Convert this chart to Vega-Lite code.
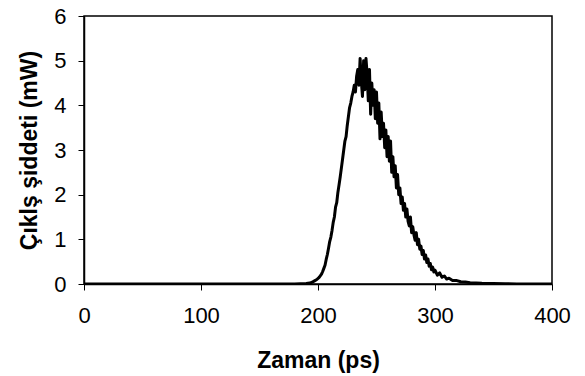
{
  "$schema": "https://vega.github.io/schema/vega-lite/v6.json",
  "width": 468,
  "height": 268,
  "autosize": "none",
  "padding": {"left": 84, "top": 16, "right": 33, "bottom": 92},
  "background": "white",
  "config": {
    "view": {"stroke": "black", "strokeWidth": 1.5},
    "font": "Liberation Sans"
  },
  "data": {
    "values": [
      {"t": 0, "p": 0}, {"t": 180, "p": 0}, {"t": 185, "p": 0.005}, {"t": 190, "p": 0.01},
      {"t": 193, "p": 0.02}, {"t": 195, "p": 0.04}, {"t": 197, "p": 0.07}, {"t": 199, "p": 0.1},
      {"t": 201, "p": 0.15}, {"t": 203, "p": 0.22}, {"t": 204, "p": 0.28}, {"t": 205, "p": 0.35},
      {"t": 206, "p": 0.42}, {"t": 207, "p": 0.55}, {"t": 208, "p": 0.66}, {"t": 209, "p": 0.8},
      {"t": 210, "p": 0.95}, {"t": 211, "p": 1.05}, {"t": 212, "p": 1.2}, {"t": 213, "p": 1.38},
      {"t": 214, "p": 1.5}, {"t": 215, "p": 1.72}, {"t": 216, "p": 1.82}, {"t": 217, "p": 2.05},
      {"t": 218, "p": 2.22}, {"t": 219, "p": 2.4}, {"t": 220, "p": 2.6}, {"t": 221, "p": 2.8},
      {"t": 222, "p": 3.0}, {"t": 223, "p": 3.2}, {"t": 224, "p": 3.3}, {"t": 225, "p": 3.55},
      {"t": 226, "p": 3.75}, {"t": 227, "p": 3.95}, {"t": 228, "p": 4.05}, {"t": 229, "p": 4.2},
      {"t": 230, "p": 4.3}, {"t": 231, "p": 4.45}, {"t": 232, "p": 4.3}, {"t": 233, "p": 4.65},
      {"t": 234, "p": 4.8}, {"t": 235, "p": 4.45}, {"t": 236, "p": 5.05}, {"t": 237, "p": 4.55},
      {"t": 238, "p": 4.2}, {"t": 239, "p": 5.0}, {"t": 240, "p": 4.35}, {"t": 241, "p": 5.05},
      {"t": 242, "p": 4.7}, {"t": 243, "p": 4.1}, {"t": 244, "p": 4.8}, {"t": 245, "p": 3.8},
      {"t": 246, "p": 4.5}, {"t": 247, "p": 4.0}, {"t": 248, "p": 4.35}, {"t": 249, "p": 3.7},
      {"t": 250, "p": 4.3}, {"t": 251, "p": 3.6}, {"t": 252, "p": 4.05}, {"t": 253, "p": 3.25},
      {"t": 254, "p": 3.85}, {"t": 255, "p": 3.3}, {"t": 256, "p": 3.6}, {"t": 257, "p": 3.05},
      {"t": 258, "p": 3.45}, {"t": 259, "p": 2.85}, {"t": 260, "p": 3.3}, {"t": 261, "p": 2.75},
      {"t": 262, "p": 3.2}, {"t": 263, "p": 2.5}, {"t": 264, "p": 2.85}, {"t": 265, "p": 2.4},
      {"t": 266, "p": 2.65}, {"t": 267, "p": 2.15}, {"t": 268, "p": 2.45}, {"t": 269, "p": 2.0},
      {"t": 270, "p": 2.15}, {"t": 271, "p": 1.8}, {"t": 272, "p": 1.95}, {"t": 273, "p": 1.65},
      {"t": 274, "p": 1.8}, {"t": 275, "p": 1.5}, {"t": 276, "p": 1.68}, {"t": 277, "p": 1.4},
      {"t": 278, "p": 1.3}, {"t": 279, "p": 1.5}, {"t": 280, "p": 1.15}, {"t": 281, "p": 1.28},
      {"t": 282, "p": 1.1}, {"t": 283, "p": 0.98}, {"t": 284, "p": 1.15}, {"t": 285, "p": 0.88},
      {"t": 286, "p": 1.0}, {"t": 287, "p": 0.78}, {"t": 288, "p": 0.85}, {"t": 289, "p": 0.66},
      {"t": 290, "p": 0.75}, {"t": 291, "p": 0.56}, {"t": 292, "p": 0.65}, {"t": 293, "p": 0.48},
      {"t": 294, "p": 0.56}, {"t": 295, "p": 0.4}, {"t": 296, "p": 0.46}, {"t": 297, "p": 0.32},
      {"t": 298, "p": 0.38}, {"t": 299, "p": 0.27}, {"t": 300, "p": 0.31}, {"t": 302, "p": 0.2},
      {"t": 304, "p": 0.25}, {"t": 306, "p": 0.15}, {"t": 308, "p": 0.18}, {"t": 310, "p": 0.11},
      {"t": 312, "p": 0.13}, {"t": 315, "p": 0.08}, {"t": 318, "p": 0.08}, {"t": 322, "p": 0.05},
      {"t": 326, "p": 0.045}, {"t": 330, "p": 0.03}, {"t": 335, "p": 0.025}, {"t": 340, "p": 0.015},
      {"t": 350, "p": 0.01}, {"t": 360, "p": 0.005}, {"t": 370, "p": 0}, {"t": 400, "p": 0}
    ]
  },
  "mark": {"type": "line", "color": "black", "strokeWidth": 3, "strokeJoin": "round", "clip": true},
  "encoding": {
    "x": {
      "field": "t", "type": "quantitative",
      "scale": {"domain": [0, 400], "nice": false},
      "axis": {
        "title": "Zaman (ps)", "values": [0, 100, 200, 300, 400], "grid": false,
        "domainColor": "black", "domainWidth": 1.5, "tickColor": "black", "tickSize": 6,
        "labelFontSize": 22, "labelColor": "black", "labelPadding": 15, "labelFlush": false,
        "titleFontSize": 23, "titleFontWeight": "bold", "titleColor": "black", "titlePadding": 23
      }
    },
    "y": {
      "field": "p", "type": "quantitative",
      "scale": {"domain": [0, 6], "nice": false},
      "axis": {
        "title": "Çıklş şiddeti (mW)", "values": [0, 1, 2, 3, 4, 5, 6], "grid": false,
        "domainColor": "black", "domainWidth": 1.5, "tickColor": "black", "tickSize": 6,
        "labelFontSize": 22, "labelColor": "black", "labelPadding": 12, "labelFlush": false,
        "titleFontSize": 23, "titleFontWeight": "bold", "titleColor": "black", "titlePadding": 12
      }
    }
  }
}
